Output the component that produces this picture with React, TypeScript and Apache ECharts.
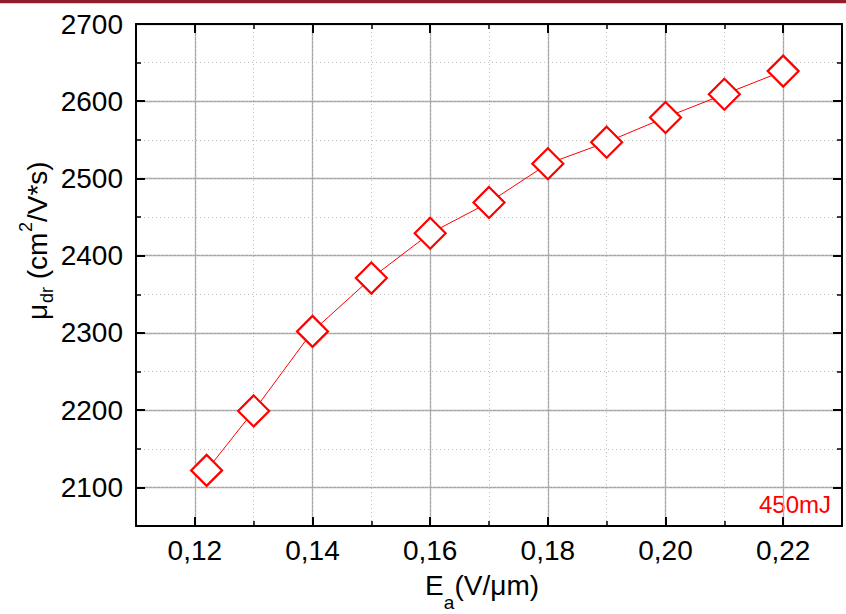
import React, { useEffect, useRef } from "react";
import * as echarts from "echarts";

const FF = "Liberation Sans, Arial, Helvetica, sans-serif";

const fieldValues = [0.122, 0.13, 0.14, 0.15, 0.16, 0.17, 0.18, 0.19, 0.2, 0.21, 0.22];
const mobilityValues = [2122, 2199, 2302, 2371, 2429, 2469, 2519, 2547, 2579, 2609, 2639];
const xMajorTicks = [0.12, 0.14, 0.16, 0.18, 0.2, 0.22];
const yMajorTicks = [2100, 2200, 2300, 2400, 2500, 2600, 2700];
const seriesLabel = "450mJ";

function piece(text: string, x: number, baseline: number, fs: number, fill = "#000") {
  return {
    type: "text",
    x,
    y: baseline - 0.3465 * fs,
    style: { text, fontSize: fs, fontFamily: FF, fill, align: "left", verticalAlign: "middle" },
  };
}

export default function App() {
  const ref = useRef<HTMLDivElement>(null);
  useEffect(() => {
    if (!ref.current) return;
    const chart = echarts.init(ref.current, undefined, { renderer: "svg" });
    const axisLine = { show: true, onZero: false, lineStyle: { color: "#000", width: 2 } };
    const majorTick = { show: true, inside: true, length: 9, lineStyle: { color: "#000", width: 2 } };
    const minorTick = { show: true, inside: true, length: 5, lineStyle: { color: "#000", width: 1.5 } };
    const xBase = { type: "value", min: 0.11, max: 0.23, interval: 0.01, gridIndex: 0 };
    const yBase = { type: "value", min: 2050, max: 2700, interval: 50, gridIndex: 0 };
    const data = fieldValues.map((x, i) => [x, mobilityValues[i]]);
    chart.setOption({
      animation: false,
      backgroundColor: "#fff",
      grid: { left: 136, right: 4, top: 24, bottom: 88, containLabel: false },
      xAxis: [
        {
          ...xBase,
          position: "bottom",
          axisLine,
          axisTick: { ...majorTick, customValues: xMajorTicks },
          axisLabel: {
            customValues: xMajorTicks,
            formatter: (v: number) => v.toFixed(2).replace(".", ","),
            fontSize: 28,
            fontFamily: FF,
            color: "#000",
            margin: 10,
          },
          splitLine: { show: true, lineStyle: { color: "#a6a6a6", width: 1.3 } },
        },
        {
          ...xBase,
          position: "bottom",
          axisLine: { show: false },
          axisTick: minorTick,
          axisLabel: { show: false },
          splitLine: { show: true, lineStyle: { color: "#bdbdbd", width: 1, type: [1, 3] } },
        },
        {
          ...xBase,
          position: "top",
          axisLine,
          axisTick: { ...majorTick, customValues: xMajorTicks },
          axisLabel: { show: false },
          splitLine: { show: false },
        },
        {
          ...xBase,
          position: "top",
          axisLine: { show: false },
          axisTick: minorTick,
          axisLabel: { show: false },
          splitLine: { show: false },
        },
      ],
      yAxis: [
        {
          ...yBase,
          position: "left",
          axisLine,
          axisTick: { ...majorTick, customValues: yMajorTicks },
          axisLabel: {
            customValues: yMajorTicks,
            formatter: (v: number) => String(Math.round(v)),
            fontSize: 28,
            fontFamily: FF,
            color: "#000",
            margin: 13,
          },
          splitLine: { show: true, lineStyle: { color: "#a6a6a6", width: 1.3 } },
        },
        {
          ...yBase,
          position: "left",
          axisLine: { show: false },
          axisTick: minorTick,
          axisLabel: { show: false },
          splitLine: { show: true, lineStyle: { color: "#bdbdbd", width: 1, type: [1, 3] } },
        },
        {
          ...yBase,
          position: "right",
          axisLine,
          axisTick: { ...majorTick, customValues: yMajorTicks },
          axisLabel: { show: false },
          splitLine: { show: false },
        },
        {
          ...yBase,
          position: "right",
          axisLine: { show: false },
          axisTick: minorTick,
          axisLabel: { show: false },
          splitLine: { show: false },
        },
      ],
      series: [
        {
          type: "line",
          name: seriesLabel,
          xAxisIndex: 0,
          yAxisIndex: 0,
          data,
          symbol: "diamond",
          symbolSize: [31, 31],
          showAllSymbol: true,
          lineStyle: { color: "#ff0000", width: 1 },
          itemStyle: { color: "#ffffff", borderColor: "#ff0000", borderWidth: 2.2 },
          z: 5,
        },
      ],
      graphic: [
        { type: "rect", shape: { x: 0, y: 0, width: 846, height: 3 }, style: { fill: "#8f1d2c" } },
        { type: "rect", shape: { x: 0, y: 3, width: 846, height: 1 }, style: { fill: "#e8c9cd" } },
        piece("E", 425, 595, 28),
        piece("a", 443.7, 609, 19),
        piece("(V/μm)", 454.5, 595, 28),
        {
          type: "group",
          x: 47,
          y: 320,
          rotation: Math.PI / 2,
          children: [
            piece("μ", 0, 0, 28),
            piece("dr", 17, 6, 18),
            piece(" (cm", 33, 0, 28),
            piece("2", 88, -15, 18),
            piece("/V*s)", 98, 0, 28),
          ],
        },
        {
          type: "text",
          x: 831,
          y: 513 - 0.3465 * 24,
          style: { text: seriesLabel, fontSize: 24, fontFamily: FF, fill: "#ff0000", align: "right", verticalAlign: "middle" },
        },
      ],
    });
    return () => chart.dispose();
  }, []);
  return <div ref={ref} style={{ position: "fixed", left: 0, top: 0, width: 846, height: 614 }} />;
}
